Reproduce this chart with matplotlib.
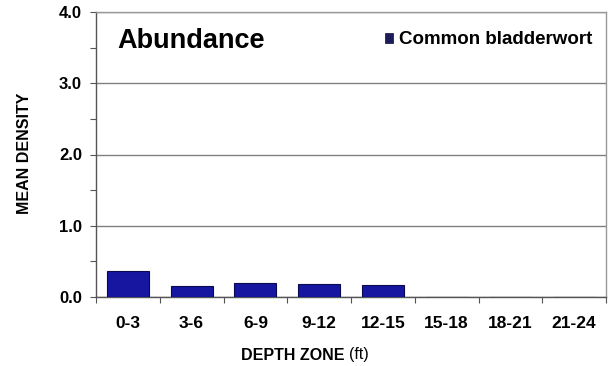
import matplotlib
matplotlib.use("Agg")
import matplotlib.pyplot as plt
from matplotlib.patches import Rectangle
from matplotlib.ticker import MultipleLocator
import numpy as np

depth_zones = ["0-3", "3-6", "6-9", "9-12", "12-15", "15-18", "18-21", "21-24"]
mean_density = [0.37, 0.155, 0.20, 0.185, 0.165, 0.0, 0.0, 0.0]
series_name = "Common bladderwort"

plt.rcParams["font.family"] = ["Liberation Sans", "DejaVu Sans"]

fig = plt.figure(figsize=(6.13, 3.66), dpi=100)
ax = fig.add_axes([96/613, 1-297/366, 510/613, 285/366])

x = np.arange(len(depth_zones))
ax.bar(x, mean_density, width=0.66, color="#1616a0", edgecolor="#0a0a50", linewidth=0.8, zorder=3)

ax.set_xlim(-0.5, len(depth_zones) - 0.5)
ax.set_ylim(0, 4.0)
ax.yaxis.set_major_locator(MultipleLocator(1.0))
ax.yaxis.set_minor_locator(MultipleLocator(0.5))
ax.yaxis.grid(True, which="major", color="#808080", linewidth=1.0, zorder=0)
ax.set_yticklabels([f"{v:.1f}" for v in ax.get_yticks()])
ax.tick_params(axis="y", which="both", direction="out", length=4, width=0.8, color="#555555",
               labelsize=12, pad=6)
for lbl in ax.get_yticklabels():
    lbl.set_fontweight("bold")

ax.set_xticks(x)
ax.set_xticklabels(depth_zones, fontsize=12.5, fontweight="bold")
ax.set_xticks(np.arange(-0.5, len(depth_zones)), minor=True)
ax.tick_params(axis="x", which="major", length=0, pad=14)
ax.tick_params(axis="x", which="minor", direction="out", length=4, width=0.8, color="#555555")

for side in ["left", "bottom"]:
    ax.spines[side].set_color("#555555")
    ax.spines[side].set_linewidth(1.0)
for side in ["top", "right"]:
    ax.spines[side].set_color("#999999")
    ax.spines[side].set_linewidth(1.0)

ax.text(0.042, 0.9, "Abundance", transform=ax.transAxes, fontsize=19.5, fontweight="bold",
        va="center", ha="left")

# legend entry
ax.add_patch(Rectangle((0.567, 0.891), 0.016, 0.035, transform=ax.transAxes,
                       facecolor="#1c1c5a", edgecolor="#0a0a40", linewidth=0.5, zorder=5))
ax.text(0.594, 0.902, series_name, transform=ax.transAxes, fontsize=13.5, fontweight="bold",
        va="center", ha="left")

fig.text(25/613, 1-153/366, "MEAN DENSITY", rotation=90, fontsize=11.5, fontweight="bold",
         ha="center", va="center")
fig.text(349/613, 1-355/366, "DEPTH ZONE ", fontsize=11.5, fontweight="bold", ha="right", va="center")
fig.text(349/613, 1-355/366, "(ft)", fontsize=11.5, ha="left", va="center")

fig.savefig("out.png", dpi=100)
